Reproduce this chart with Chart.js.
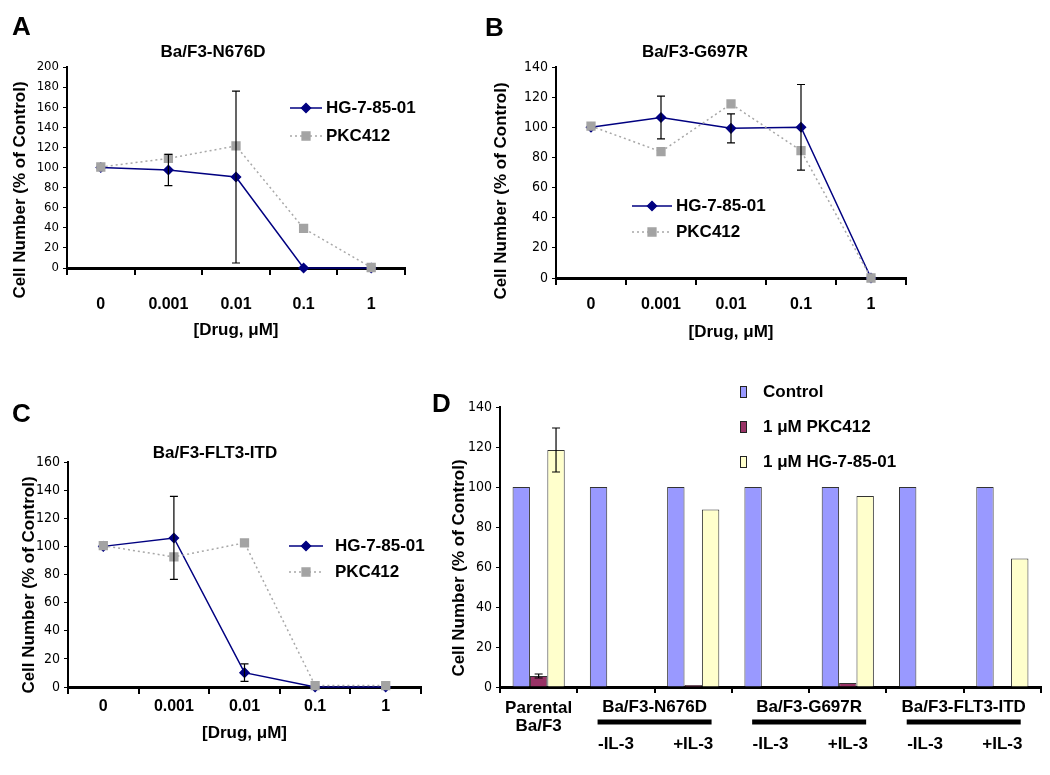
<!DOCTYPE html>
<html>
<head>
<meta charset="utf-8">
<script src="https://cdn.jsdelivr.net/npm/chart.js@4.4.1/dist/chart.umd.min.js"></script>
<style>
  body { margin: 0; background: #fff; width: 1050px; height: 775px; position: relative; overflow: hidden; }
  canvas { position: absolute; }
</style>
</head>
<body>
<canvas id="panelA" width="430" height="345" style="left:0;top:0"></canvas>
<canvas id="panelB" width="480" height="345" style="left:440px;top:0"></canvas>
<canvas id="panelC" width="430" height="395" style="left:0;top:360px"></canvas>
<canvas id="panelD" width="620" height="415" style="left:430px;top:360px"></canvas>
<script>
// x categories of the dose panels
const doses = ["0", "0.001", "0.01", "0.1", "1"];

// A - Ba/F3-N676D
const hgA = [100, 97.5, 90.5, 0, 0];
const hgAErr = [0, 15.5, 85.5, 0, 0];
const pkcA = [100.5, 109, 121.5, 39.5, 0.5];

// B - Ba/F3-G697R
const hgB = [100, 106.5, 99.3, 100, 0];
const hgBErr = [0, 14.2, 9.6, 28.4, 0];
const pkcB = [100.8, 83.8, 115.5, 84.5, 0];

// C - Ba/F3-FLT3-ITD
const hgC = [100, 106, 10.2, 0, 0];
const hgCErr = [0, 29.5, 6.2, 0, 0];
const pkcC = [100.5, 92.5, 102.5, 1, 1];

// D - bars
const dCategories = [["Parental", "Ba/F3"], ["", "", "-IL-3"], ["", "", "+IL-3"], ["", "", "-IL-3"], ["", "", "+IL-3"], ["", "", "-IL-3"], ["", "", "+IL-3"]];
const dGroups = ["Ba/F3-N676D", "Ba/F3-G697R", "Ba/F3-FLT3-ITD"];
const controlD = [100, 100, 100, 100, 100, 100, 100];
const pkcD = [5.5, 0, 1, 0, 2, 0, 0];
const pkcDErr = [1, 0, 0, 0, 0, 0, 0];
const hgD = [118.5, 0, 88.8, 0, 95.5, 0, 64.3];
const hgDErr = [11, 0, 0, 0, 0, 0, 0];

const FONT = '"Liberation Sans", Arial, sans-serif';
const NARROW = '"Liberation Sans Narrow", "Arial Narrow", "DejaVu Sans Condensed", sans-serif';
const YTITLE = "Cell Number (% of Control)";

//error bars, read from dataset.errors
const errorBars = {
  id: "errorBars",
  afterDatasetsDraw(chart) {
    const ctx = chart.ctx;
    const y = chart.scales.y;
    chart.data.datasets.forEach((ds, i) => {
      if (!ds.errors) return;
      chart.getDatasetMeta(i).data.forEach((el, j) => {
        const e = ds.errors[j];
        if (!e) return;
        const top = y.getPixelForValue(ds.data[j] + e);
        const bot = y.getPixelForValue(ds.data[j] - e);
        ctx.save();
        ctx.strokeStyle = "#000";
        ctx.lineWidth = 1.2;
        ctx.beginPath();
        ctx.moveTo(el.x, top);
        ctx.lineTo(el.x, bot);
        ctx.moveTo(el.x - 4, top);
        ctx.lineTo(el.x + 4, top);
        ctx.moveTo(el.x - 4, bot);
        ctx.lineTo(el.x + 4, bot);
        ctx.stroke();
        ctx.restore();
      });
    });
  },
};

//legend placed inside the plot
const insetLegend = {
  id: "insetLegend",
  afterDraw(chart, args, o) {
    if (o.x === undefined) return;
    const ctx = chart.ctx;
    chart.data.datasets.forEach((ds, i) => {
      const y = o.y + i * o.gap;
      ctx.save();
      if (o.box) {
        ctx.fillStyle = ds.backgroundColor;
        ctx.fillRect(o.x, y - 6, 7, 12);
        ctx.strokeStyle = "#222";
        ctx.lineWidth = 1;
        ctx.strokeRect(o.x + 0.5, y - 5.5, 6, 11);
      } else {
        ctx.strokeStyle = ds.borderColor;
        ctx.lineWidth = ds.borderWidth;
        ctx.setLineDash(ds.borderDash || []);
        ctx.beginPath();
        ctx.moveTo(o.x, y);
        ctx.lineTo(o.x + o.len, y);
        ctx.stroke();
        ctx.setLineDash([]);
        ctx.fillStyle = ds.pointBackgroundColor;
        ctx.strokeStyle = ds.pointBorderColor;
        Chart.helpers.drawPoint(ctx, { pointStyle: ds.pointStyle, radius: ds.pointRadius, borderWidth: 1, rotation: 0 }, o.x + o.len / 2, y);
      }
      ctx.fillStyle = "#000";
      ctx.font = "bold 17px " + FONT;
      ctx.textBaseline = "middle";
      ctx.textAlign = "left";
      ctx.fillText(ds.label, o.textX, y);
      ctx.restore();
    });
  },
};

//panel letter and rotated y title
const extraText = {
  id: "extraText",
  afterDraw(chart, args, o) {
    const ctx = chart.ctx;
    (o.items || []).forEach((t) => {
      ctx.save();
      ctx.font = t.font;
      ctx.fillStyle = "#000";
      ctx.textAlign = t.align || "center";
      ctx.textBaseline = "middle";
      ctx.translate(t.x, t.y);
      if (t.rotate) ctx.rotate(t.rotate);
      ctx.fillText(t.text, 0, 0);
      ctx.restore();
    });
  },
};

//group names with black bars under them (panel D)
const groupLabels = {
  id: "groupLabels",
  afterDraw(chart, args, o) {
    if (!o.names) return;
    const x = chart.scales.x;
    const ctx = chart.ctx;
    o.names.forEach((name, i) => {
      const mid = (x.getPixelForTick(1 + 2 * i) + x.getPixelForTick(2 + 2 * i)) / 2;
      ctx.save();
      ctx.fillStyle = "#000";
      ctx.font = "bold 17px " + FONT;
      ctx.textAlign = "center";
      ctx.textBaseline = "middle";
      ctx.fillText(name, mid, o.y);
      ctx.fillRect(mid - o.barWidth / 2, o.barY - 2.5, o.barWidth, 5);
      ctx.restore();
    });
  },
};

function letter(t, x, y) {
  return { text: t, x: x, y: y, font: "bold 26px " + FONT, align: "left" };
}
function yTitle(x, y) {
  return { text: YTITLE, x: x, y: y, font: "bold 17px " + FONT, rotate: -Math.PI / 2 };
}

function doseChart(id, hg, hgErr, pkc, o) {
  return new Chart(document.getElementById(id), {
    type: "line",
    data: {
      labels: doses,
      datasets: [
        {
          label: "HG-7-85-01",
          data: hg,
          errors: hgErr,
          borderColor: "#000080",
          borderWidth: 1.5,
          pointStyle: "rectRot",
          pointRadius: 4.5,
          pointBackgroundColor: "#000080",
          pointBorderColor: "#000080",
          order: 1,
          clip: false,
        },
        {
          label: "PKC412",
          data: pkc,
          borderColor: "#A8A8A8",
          borderWidth: 1.5,
          borderDash: [2, 3],
          pointStyle: "rect",
          pointRadius: 5.5,
          pointBackgroundColor: "#A3A3A3",
          pointBorderColor: "#A3A3A3",
          order: 0,
          clip: false,
        },
      ],
    },
    options: {
      responsive: false,
      animation: false,
      layout: { padding: o.pad },
      plugins: {
        legend: { display: false },
        tooltip: { enabled: false },
        title: {
          display: true,
          text: o.title,
          color: "#000",
          font: { family: FONT, size: 17, weight: "bold", lineHeight: 1 },
          padding: o.titlePad,
        },
        insetLegend: o.legend,
        extraText: { items: o.texts },
      },
      scales: {
        x: {
          offset: true,
          grid: { offset: true, drawOnChartArea: false, tickLength: 7, color: "#000", lineWidth: 2 },
          border: { color: "#000", width: 3 },
          ticks: { color: "#000", font: { family: FONT, size: 16, weight: "bold", lineHeight: 1 }, padding: o.xPad, maxRotation: 0, autoSkip: false },
          title: {
            display: true,
            text: "[Drug, \u03bcM]",
            color: "#000",
            font: { family: FONT, size: 17, weight: "bold", lineHeight: 1 },
            padding: { top: 0, bottom: o.xTitlePad },
          },
          afterFit: (s) => { s.height = o.xHeight; },
        },
        y: {
          min: 0,
          max: o.yMax,
          ticks: { stepSize: 20, color: "#000", font: { family: NARROW, size: o.yFont }, padding: 4 },
          grid: { drawOnChartArea: false, tickLength: 4, color: "#000", lineWidth: 1 },
          border: { color: "#000", width: 2 },
          afterFit: (s) => { s.width = o.yWidth; },
        },
      },
    },
    plugins: [errorBars, insetLegend, extraText],
  });
}

doseChart("panelA", hgA, hgAErr, pkcA, {
  title: "Ba/F3-N676D",
  pad: { left: 21, right: 25, top: 0, bottom: 0 },
  titlePad: { top: 43.5, bottom: 6.5 },
  yMax: 200, yFont: 13, yWidth: 46, xHeight: 77, xPad: 22, xTitlePad: 6.5,
  legend: { x: 290, len: 32, textX: 326, y: 108, gap: 28 },
  texts: [letter("A", 12, 28), yTitle(20, 190)],
});

doseChart("panelB", hgB, hgBErr, pkcB, {
  title: "Ba/F3-G697R",
  pad: { left: 44, right: 14, top: 0, bottom: 0 },
  titlePad: { top: 43.5, bottom: 6.5 },
  yMax: 140, yFont: 14, yWidth: 72, xHeight: 67, xPad: 12, xTitlePad: 4.5,
  legend: { x: 192, len: 40, textX: 236, y: 206, gap: 26 },
  texts: [letter("B", 45, 29), yTitle(61, 191)],
});

doseChart("panelC", hgC, hgCErr, pkcC, {
  title: "Ba/F3-FLT3-ITD",
  pad: { left: 9, right: 9, top: 0, bottom: 0 },
  titlePad: { top: 85, bottom: 0 },
  yMax: 160, yFont: 14, yWidth: 59, xHeight: 68, xPad: 5, xTitlePad: 13.5,
  legend: { x: 289, len: 34, textX: 335, y: 186, gap: 26 },
  texts: [letter("C", 12, 55), yTitle(29.5, 225)],
});

//D
new Chart(document.getElementById("panelD"), {
  type: "bar",
  data: {
    labels: dCategories,
    datasets: [
      { label: "Control", data: controlD, backgroundColor: "#9999FF" },
      { label: "1 \u03bcM PKC412", data: pkcD, errors: pkcDErr, backgroundColor: "#993366" },
      { label: "1 \u03bcM HG-7-85-01", data: hgD, errors: hgDErr, backgroundColor: "#FFFFCC" },
    ],
  },
  options: {
    responsive: false,
    animation: false,
    layout: { padding: { left: 0, right: 9, top: 47, bottom: 0 } },
    datasets: {
      bar: { borderColor: "#333", borderWidth: 1, categoryPercentage: 0.675, barPercentage: 1 },
    },
    plugins: {
      legend: { display: false },
      tooltip: { enabled: false },
      insetLegend: { box: true, x: 310, textX: 333, y: 32, gap: 35 },
      extraText: { items: [letter("D", 2, 45), yTitle(29, 208)] },
      groupLabels: { names: dGroups, y: 347, barY: 362, barWidth: 114 },
    },
    scales: {
      x: {
        grid: { drawOnChartArea: false, tickLength: 6, color: "#000", lineWidth: 2 },
        border: { color: "#000", width: 3 },
        ticks: { color: "#000", font: { family: FONT, size: 17, weight: "bold", lineHeight: 1.06 }, padding: 6, maxRotation: 0, autoSkip: false },
        afterFit: (s) => { s.height = 88; },
      },
      y: {
        min: 0,
        max: 140,
        ticks: { stepSize: 20, color: "#000", font: { family: NARROW, size: 14 }, padding: 4 },
        grid: { drawOnChartArea: false, tickLength: 4, color: "#000", lineWidth: 1 },
        border: { color: "#000", width: 2 },
        afterFit: (s) => { s.width = 70; },
      },
    },
  },
  plugins: [errorBars, insetLegend, extraText, groupLabels],
});
</script>
</body>
</html>
